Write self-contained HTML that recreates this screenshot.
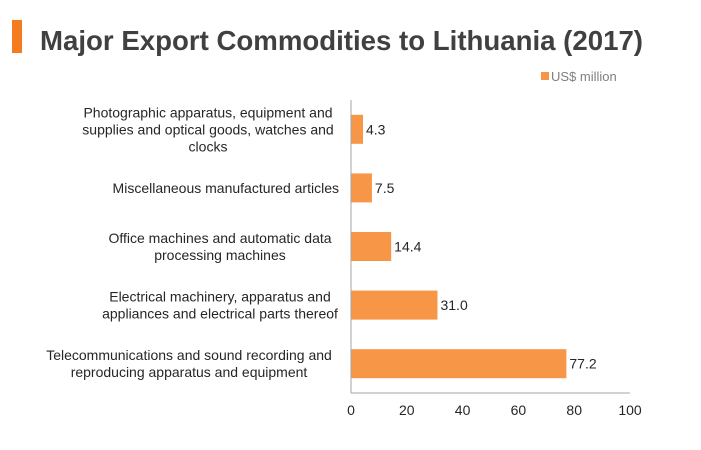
<!DOCTYPE html>
<html><head><meta charset="utf-8"><style>
body{margin:0;background:#fff;}
svg{display:block;font-family:"Liberation Sans",Arial,sans-serif;}
</style></head><body>
<svg id="chart" width="701" height="450" viewBox="0 0 701 450" xmlns="http://www.w3.org/2000/svg">
<rect x="12" y="20" width="10" height="33" fill="#F47B20"/>
<text x="40" y="50" font-size="28" font-weight="bold" fill="#404040" textLength="603" lengthAdjust="spacingAndGlyphs">Major Export Commodities to Lithuania (2017)</text>
<rect x="541" y="72" width="8" height="8" fill="#F79646"/>
<text x="551" y="81" font-size="13" fill="#7f7f7f">US$ million</text>
<g id="plot"></g>
</svg>
<script>
const categories=[
["Photographic apparatus, equipment and","supplies and optical goods, watches and","clocks"],
["Miscellaneous manufactured articles"],
["Office machines and automatic data","processing machines"],
["Electrical machinery, apparatus and","appliances and electrical parts thereof"],
["Telecommunications and sound recording and","reproducing apparatus and equipment"]];
const values=[4.3,7.5,14.4,31.0,77.2];
const valueLabels=["4.3","7.5","14.4","31.0","77.2"];
const ticks=[0,20,40,60,80,100];
const tickLabels=["0","20","40","60","80","100"];

const NS="http://www.w3.org/2000/svg";
const g=document.getElementById('plot');
const x0=351,x1=630,yTop=100,yBot=393;
const xs=v=>x0+(v-0)/(100-0)*(x1-x0);
const band=(yBot-yTop)/categories.length;
const yc=i=>yTop+band*(i+0.5);
function mk(t,a){const e=document.createElementNS(NS,t);for(const k in a)e.setAttribute(k,a[k]);g.appendChild(e);return e;}
categories.forEach((c,i)=>{
  const cy=yc(i),h=29;
  const r=mk('rect',{x:x0,y:cy-h/2,width:xs(values[i])-x0,height:h,fill:'#F79646'});
  
  
  const vl=mk('text',{x:xs(values[i])+3,y:cy+5,'font-size':14,fill:'#262626'});
  vl.textContent=valueLabels[i];
  
  
  const n=c.length,lh=17;
  c.forEach((line,j)=>{
    const t=mk('text',{x:(n>1?200:339),y:cy+5+(j-(n-1)/2)*lh,'font-size':14,fill:'#262626','text-anchor':(n>1?'middle':'end')});
    if(n>1)t.setAttribute('x',i===4?189:(i===0?208:220));
    t.textContent=line;
    
    
  });
});
const ax=mk('line',{x1:x0,y1:yTop,x2:x0,y2:yBot,stroke:'#a6a6a6'});


const bx=mk('line',{x1:x0,y1:yBot,x2:x1,y2:yBot,stroke:'#a6a6a6'});


ticks.forEach((v,i)=>{
  const t=mk('text',{x:xs(v),y:415,'font-size':14,fill:'#262626','text-anchor':'middle'});
  t.textContent=tickLabels[i];
  
  
});
</script>
</body></html>
